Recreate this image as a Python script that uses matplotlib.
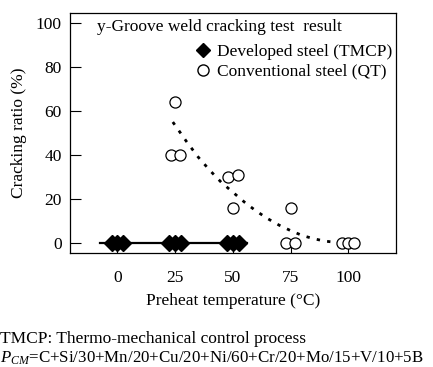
import matplotlib
matplotlib.use("Agg")
import matplotlib.pyplot as plt
from matplotlib.lines import Line2D

plt.rcParams['font.family'] = ['Liberation Serif', 'DejaVu Serif']
plt.rcParams['mathtext.fontset'] = 'custom'
plt.rcParams['mathtext.rm'] = 'Liberation Serif'
plt.rcParams['mathtext.it'] = 'Liberation Serif:italic'

# Data
dev_x = [-2.5, 0, 2.5, 22.5, 25, 27.5, 47.5, 50, 52.5]
dev_y = [0, 0, 0, 0, 0, 0, 0, 0, 0]
dev_line_x = [-7.5, 56]
dev_line_y = [0, 0]

conv_x = [25, 23, 27, 48, 52, 50, 75, 73, 77, 97.3, 100, 102.6]
conv_y = [64, 40, 40, 30, 31, 16, 16, 0, 0, 0, 0, 0]

trend_x = [24, 30, 35, 40, 45, 50, 55, 60, 65, 70, 75, 80, 85, 90, 95, 97]
trend_y = [55, 46, 39, 33, 27.5, 23, 18.5, 14.5, 11, 8, 5.5, 3.3, 1.8, 0.7, 0.1, 0]

xticks = [0, 25, 50, 75, 100]
yticks = [0, 20, 40, 60, 80, 100]

FS = 12.5

fig = plt.figure(figsize=(4.33, 3.67), dpi=100)
ax = fig.add_axes([0.1617, 0.3106, 0.7528, 0.654])

ax.plot(dev_line_x, dev_line_y, color='black', lw=1.6, zorder=2)
ax.plot(trend_x, trend_y, color='black', lw=2.0, ls=(0, (1.2, 2.6)), zorder=2)
ax.plot(dev_x, dev_y, 'D', color='black', ms=8, ls='none', zorder=3)
ax.plot(conv_x, conv_y, 'o', mfc='white', mec='black', mew=0.9, ms=8,
        ls='none', zorder=3)

ax.set_xlim(-20.5, 120.6)
ax.set_ylim(-4.7, 104.7)
ax.set_xticks(xticks)
ax.set_yticks(yticks)
ax.tick_params(axis='y', direction='in', length=8, width=0.8, pad=6, labelsize=FS)
ax.tick_params(axis='x', direction='in', length=6, width=0.8, pad=12, labelsize=FS)
for s in ax.spines.values():
    s.set_linewidth(0.9)

ax.set_ylabel('Cracking ratio (%)', fontsize=FS, labelpad=6)
ax.set_xlabel('Preheat temperature (°C)', fontsize=FS, labelpad=5)

ax.text(0.083, 0.975, 'y-Groove weld cracking test  result', transform=ax.transAxes,
        fontsize=FS, va='top', ha='left')

handles = [Line2D([], [], marker='D', color='black', ls='none', ms=7),
           Line2D([], [], marker='o', mfc='white', mec='black', ls='none', ms=8)]
ax.legend(handles, ['Developed steel (TMCP)', 'Conventional steel (QT)'],
          loc='upper right', bbox_to_anchor=(1.02, 0.915), frameon=False, fontsize=FS,
          handlelength=0.8, handletextpad=0.4, borderaxespad=0.2, labelspacing=0.2)

fig.text(0.0, 1 - 339 / 367, 'TMCP: Thermo-mechanical control process', fontsize=FS,
         va='center', ha='left')
fig.text(0.0, 1 - 358 / 367,
         r'$P_{CM}$=C+Si/30+Mn/20+Cu/20+Ni/60+Cr/20+Mo/15+V/10+5B',
         fontsize=12.2, va='center', ha='left')

fig.savefig('out.png', dpi=100)
